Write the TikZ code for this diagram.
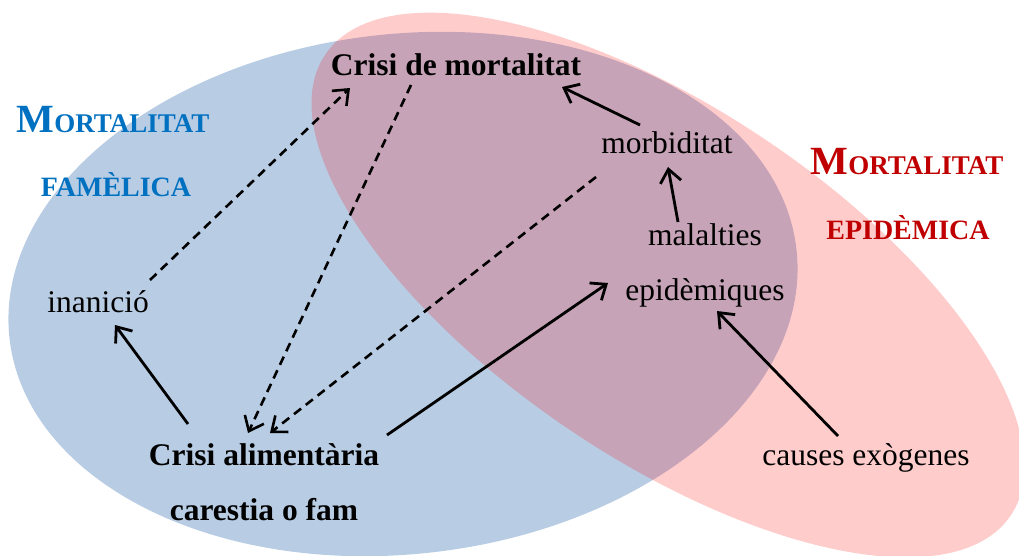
\documentclass[tikz,border=0pt]{standalone}
\usepackage{fontspec}
\setmainfont{Liberation Serif}
\usetikzlibrary{arrows.meta}
\definecolor{famblue}{RGB}{184,204,228}
\definecolor{titleblue}{RGB}{0,112,192}
\definecolor{titlered}{RGB}{192,0,0}
\tikzset{
  txt/.style={anchor=base, inner sep=0pt, font=\fontsize{31.5}{36}\selectfont},
  btxt/.style={txt, font=\fontsize{31.5}{36}\selectfont\bfseries},
  ttl/.style={anchor=base, inner sep=0pt, font=\bfseries},
  arr/.style={line width=2.8pt, -{Straight Barb[length=13pt,width=21pt,line width=2.8pt]}},
  darr/.style={line width=2.6pt, dash pattern=on 9pt off 6pt, -{Straight Barb[length=13pt,width=21pt,line width=2.6pt]}}
}
\newcommand{\bigM}{\fontsize{40}{40}\selectfont}
\newcommand{\smc}{\fontsize{27}{27}\selectfont}
\newcommand{\smcb}{\fontsize{28}{28}\selectfont}
\begin{document}
\begin{tikzpicture}[x=1pt,y=-1pt]
\useasboundingbox (0,0) rectangle (1019,555);
\clip (0,0) rectangle (1019,555);
% ellipses
\fill[famblue, rotate around={6.5:(403,294)}] (403,294) ellipse [x radius=396pt, y radius=260pt];
\fill[red, opacity=0.2, rotate around={-33.9:(668,285)}] (668,285) ellipse [x radius=413pt, y radius=175pt];
% titles
\node[ttl, text=titleblue] (t1) at (113,132) {{\bigM M}{\smc ORTALITAT}};
\node[ttl, text=titleblue] (t2) at (116,196) {\smcb FAMÈLICA};
\node[ttl, text=titlered] (t3) at (907,174) {{\bigM M}{\smc ORTALITAT}};
\node[ttl, text=titlered] (t4) at (908,239) {\smcb EPIDÈMICA};
% nodes
\node[btxt] (cdm) at (456,75) {Crisi de mortalitat};
\node[txt] (inan) at (98,312) {inanició};
\node[txt] (morb) at (667,153) {morbiditat};
\node[txt] (mal) at (705,245) {malalties};
\node[txt] (epi) at (705,300) {epidèmiques};
\node[txt] (caus) at (866,465) {causes exògenes};
\node[btxt] (ca) at (264,465) {Crisi alimentària};
\node[btxt] (cf) at (264,520) {carestia o fam};
% connectors
\draw[darr] ([shift={(52,-32)}]inan.base) -- ([shift={(-106,13)}]cdm.base);
\draw[darr] ([shift={(-45,10)}]cdm.base) -- ([shift={(-16,-32)}]ca.base);
\draw[darr] ([shift={(-71,24)}]morb.base) -- ([shift={(6,-32)}]ca.base);
\draw[arr] ([shift={(-27,-28)}]morb.base) -- ([shift={(106,12)}]cdm.base);
\draw[arr] ([shift={(-27,-23)}]mal.base) -- ([shift={(1,14)}]morb.base);
\draw[arr] ([shift={(123,-30)}]ca.base) -- ([shift={(-97,-17)}]epi.base);
\draw[arr] ([shift={(-28,-29)}]caus.base) -- ([shift={(12,11)}]epi.base);
\draw[arr] ([shift={(-76,-41)}]ca.base) -- ([shift={(17,13)}]inan.base);
\end{tikzpicture}
\end{document}
